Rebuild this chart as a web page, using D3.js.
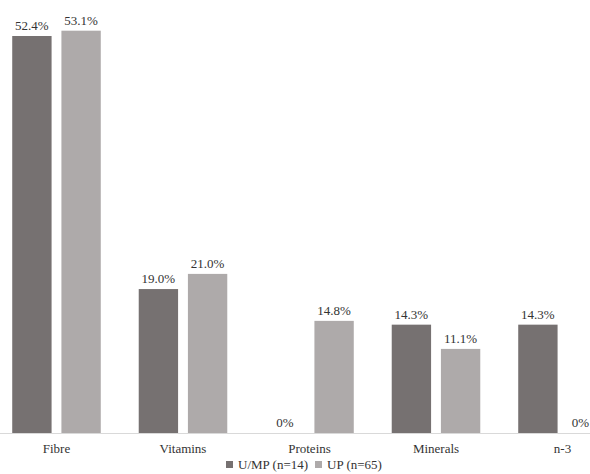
<!DOCTYPE html>
<html><head><meta charset="utf-8">
<script src="https://cdn.jsdelivr.net/npm/d3@7"></script>
<style>html,body{margin:0;padding:0;background:#fff;overflow:hidden}</style>
</head><body>
<svg id="chart" width="590" height="474"></svg>
<script>
const categories = ["Fibre", "Vitamins", "Proteins", "Minerals", "n-3"];
const seriesNames = ["U/MP (n=14)", "UP (n=65)"];
const umpValues = [52.4, 19.0, 0, 14.3, 14.3];
const upValues = [53.1, 21.0, 14.8, 11.1, 0];
const labelsUMP = ["52.4%", "19.0%", "0%", "14.3%", "14.3%"];
const labelsUP = ["53.1%", "21.0%", "14.8%", "11.1%", "0%"];
const colors = ["#767171", "#AEAAAA"];

const svg = d3.select("#chart");
const font = "'Liberation Serif', 'DejaVu Serif', serif";
const W = 590;
const x0 = d3.scaleBand().domain(categories).range([-6.75, 625.75]).paddingInner(0.3).paddingOuter(0.15);
const x1 = d3.scaleBand().domain([0, 1]).range([0, x0.bandwidth()]).paddingInner(0.2);
const y = d3.scaleLinear().domain([0, 52.4]).range([433, 36]);

const data = categories.map((c, i) => ({c, vals: [umpValues[i], upValues[i]], labs: [labelsUMP[i], labelsUP[i]]}));

// axis line
svg.append("line").attr("x1", 0).attr("x2", W).attr("y1", 433.5).attr("y2", 433.5)
  .attr("stroke", "#d9d9d9").attr("stroke-width", 1);

const g = svg.append("g").selectAll("g").data(data).join("g")
  .attr("transform", d => `translate(${x0(d.c)},0)`);

g.selectAll("rect").data(d => d.vals.map((v, j) => ({v, j}))).join("rect")
  .attr("x", d => x1(d.j)).attr("width", x1.bandwidth())
  .attr("y", d => y(d.v)).attr("height", d => y(0) - y(d.v))
  .attr("fill", d => colors[d.j]);

g.selectAll("text").data(d => d.vals.map((v, j) => ({v, j, l: d.labs[j], c: d.c}))).join("text")
  .attr("x", d => x1(d.j) + x1.bandwidth() / 2)
  .attr("y", d => y(d.v) - 6)
  .attr("text-anchor", "middle").attr("font-family", font).attr("font-size", 13)
  .attr("fill", "#333").text(d => d.l)
  .each(function(d) {
    // keep labels inside the visible area
    const abs = x0(d.c) + x1(d.j) + x1.bandwidth() / 2;
    const w = this.getComputedTextLength();
    if (abs + w / 2 > W - 1) {
      d3.select(this).attr("text-anchor", "end").attr("x", W - 1 - x0(d.c));
    }
  });

// category labels
svg.append("g").selectAll("text").data(categories).join("text")
  .attr("x", d => x0(d) + x0.bandwidth() / 2).attr("y", 453)
  .attr("text-anchor", "middle").attr("font-family", font).attr("font-size", 13)
  .attr("fill", "#333").text(d => d);

// legend
const legX = [226, 315];
const leg = svg.append("g").selectAll("g").data(seriesNames).join("g")
  .attr("transform", (d, i) => `translate(${legX[i]},461)`);
leg.append("rect").attr("width", 7).attr("height", 7).attr("fill", (d, i) => colors[i]);
leg.append("text").attr("x", 12).attr("y", 8).attr("font-family", font).attr("font-size", 13)
  .attr("fill", "#333").text(d => d);
</script>
</body></html>
